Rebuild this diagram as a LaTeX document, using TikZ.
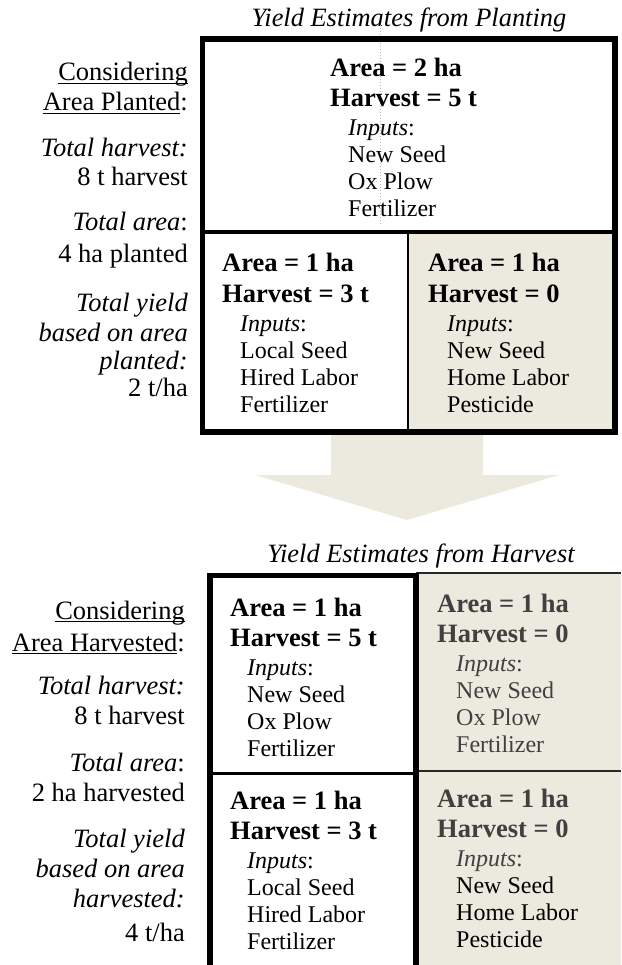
\documentclass[tikz,border=0pt]{standalone}
\usepackage{fontspec}
\setmainfont{Liberation Serif}
\newcommand\myul[1]{\setbox0=\hbox{#1}\rlap{\rule[-3pt]{\wd0}{1.3pt}}\box0}
\definecolor{beige}{RGB}{236,233,223}
\definecolor{dimtext}{RGB}{64,64,64}
\definecolor{gridline}{RGB}{40,40,40}
\tikzset{
  boldline/.style={font=\fontsize{26.5}{30}\selectfont\bfseries, anchor=base west, inner sep=0pt},
  regline/.style={font=\fontsize{24}{27}\selectfont, anchor=base west, inner sep=0pt},
  sidelabel/.style={font=\fontsize{26.5}{30}\selectfont, anchor=base east, inner sep=0pt},
  titletext/.style={font=\fontsize{26.4}{30}\selectfont\itshape, anchor=base, inner sep=0pt},
  frame/.style={line width=5.5pt, black},
}
% #1 name, #2 x bold, #3 x inputs, #4 baseline of first line, #5 area, #6 harvest, #7-#9 items
\newcommand\cellblock[9]{%
  \node[boldline] (#1a) at (#2,#4) {Area = #5};
  \node[boldline] (#1h) at (#2,#4+30) {Harvest = #6};
  \node[regline] (#1i) at (#3,#4+59) {\textit{Inputs}:};
  \node[regline] (#1p) at (#3,#4+86) {#7};
  \node[regline] (#1q) at (#3,#4+113) {#8};
  \node[regline] (#1r) at (#3,#4+140) {#9};
}
\begin{document}
\begin{tikzpicture}[x=1pt,y=-1pt]
\useasboundingbox (0,0) rectangle (621,965);
\fill[white] (0,0) rectangle (621,965);

% ---------- top section ----------
\node[titletext] (title1) at (409,27) {Yield Estimates from Planting};

% arrow (behind the box)
\fill[beige] (331,430) -- (483,430) -- (483,475) -- (559,475) -- (407,520)
  -- (255,475) -- (331,475) -- cycle;

\fill[white] (202.5,39) rectangle (615,432);
\fill[beige] (408,232.5) rectangle (615,432);
\draw[gray!55, dotted, line width=1pt] (380,25) -- (380,225);
\draw[line width=2pt] (408,232.5) -- (408,432);
\draw[line width=4pt] (202.5,232.5) -- (615,232.5);
\draw[frame] (202.5,39) rectangle (615,432);

\cellblock{ta}{330}{348}{77}{2 ha}{5 t}{New Seed}{Ox Plow}{Fertilizer}
\cellblock{tb}{222}{240}{272}{1 ha}{3 t}{Local Seed}{Hired Labor}{Fertilizer}
\cellblock{tc}{428}{447}{272}{1 ha}{0}{New Seed}{Home Labor}{Pesticide}

\node[sidelabel] (l1) at (188,81) {\myul{Considering}};
\node[sidelabel] (l2) at (188,111) {\myul{Area Planted}:};
\node[sidelabel] (l3) at (188,157) {\textit{Total harvest:}};
\node[sidelabel] (l4) at (188,186) {8 t harvest};
\node[sidelabel] (l5) at (188,231) {\textit{Total area}:};
\node[sidelabel] (l6) at (188,262) {4 ha planted};
\node[sidelabel] (l7) at (188,311) {\textit{Total yield}};
\node[sidelabel] (l8) at (188,341) {\textit{based on area}};
\node[sidelabel] (l9) at (188,369) {\textit{planted:}};
\node[sidelabel] (l10) at (188,396) {2 t/ha};

% ---------- bottom section ----------
\node[titletext] (title2) at (421,562) {Yield Estimates from Harvest};

\fill[white] (210,575.5) rectangle (416,965);
\fill[beige] (416,572.5) rectangle (621,965);
\draw[gridline, line width=2pt] (416,572.5) -- (621,572.5);
\draw[gridline, line width=2pt] (416,770.5) -- (621,770.5);
\draw[black, line width=3pt] (210,773) -- (416,773);
\draw[frame] (210,965) -- (210,575.5) -- (416,575.5) -- (416,965);

\cellblock{ba}{230}{247}{616}{1 ha}{5 t}{New Seed}{Ox Plow}{Fertilizer}
\cellblock{bc}{230}{247}{809}{1 ha}{3 t}{Local Seed}{Hired Labor}{Fertilizer}
\begin{scope}[every node/.append style={text=dimtext}]
\cellblock{bb}{437}{456}{612}{1 ha}{0}{New Seed}{Ox Plow}{Fertilizer}
\cellblock{bd}{437}{456}{807}{1 ha}{0}{\color{black}New Seed}{\color{black}Home Labor}{\color{black}Pesticide}
\end{scope}

\node[sidelabel] (m1) at (185,619) {\myul{Considering}};
\node[sidelabel] (m2) at (185,651) {\myul{Area Harvested}:};
\node[sidelabel] (m3) at (185,694) {\textit{Total harvest:}};
\node[sidelabel] (m4) at (185,724) {8 t harvest};
\node[sidelabel] (m5) at (185,771) {\textit{Total area}:};
\node[sidelabel] (m6) at (185,801) {2 ha harvested};
\node[sidelabel] (m7) at (185,847) {\textit{Total yield}};
\node[sidelabel] (m8) at (185,877) {\textit{based on area}};
\node[sidelabel] (m9) at (185,907) {\textit{harvested:}};
\node[sidelabel] (m10) at (185,941) {4 t/ha};
\end{tikzpicture}
\end{document}
